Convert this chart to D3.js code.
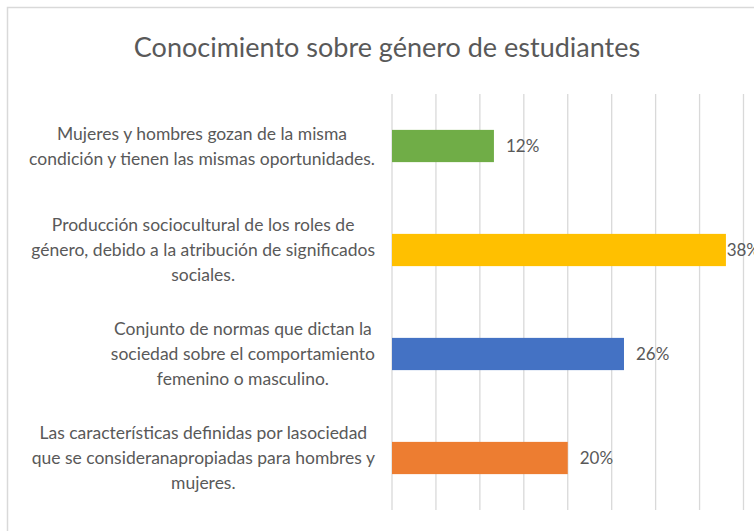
<!DOCTYPE html>
<html>
<head>
<meta charset="utf-8">
<script src="https://cdn.jsdelivr.net/npm/d3@7"></script>
<style>
  body { margin: 0; background: #fff; }
  svg { display: block; font-family: Lato, "Open Sans", sans-serif; }
</style>
</head>
<body>
<script>
// data
var categories = [
  "Mujeres y hombres gozan de la misma condición y tienen las mismas oportunidades.",
  "Producción sociocultural de los roles de género, debido a la atribución de significados sociales.",
  "Conjunto de normas que dictan la sociedad sobre el comportamiento femenino o masculino.",
  "Las características definidas por lasociedad que se consideranapropiadas para hombres y mujeres."
];
var labelLines = [
  ["Mujeres y hombres gozan de la misma", "condición y tienen las mismas oportunidades."],
  ["Producción sociocultural de los roles de", "género, debido a la atribución de significados", "sociales."],
  ["Conjunto de normas que dictan la", "sociedad sobre el comportamiento", "femenino o masculino."],
  ["Las características definidas por lasociedad", "que se consideranapropiadas para hombres y", "mujeres."]
];
var values = [11.6, 38, 26.4, 20];
var colors = ["#70ad47", "#ffc000", "#4472c4", "#ed7d31"];
var gridTicks = [0, 5, 10, 15, 20, 25, 30, 35, 40];

var w = 754, h = 531;
var textColor = "#595959";
var plotRight = 760; // plot area runs past the cropped edge

var svg = d3.select("body").append("svg")
  .attr("width", w)
  .attr("height", h);

// chart frame (cropped at right and bottom in the original)
svg.append("rect")
  .attr("x", 7.5).attr("y", 7.5)
  .attr("width", 800).attr("height", 600)
  .attr("fill", "#fff")
  .attr("stroke", "#d9d9d9")
  .attr("stroke-width", 1.5);

svg.append("text")
  .attr("x", 387)
  .attr("y", 57)
  .attr("text-anchor", "middle")
  .attr("font-size", "27px")
  .attr("fill", textColor)
  .text("Conocimiento sobre género de estudiantes");

var x = d3.scaleLinear().domain([0, 40]).range([392, 743.5]);
var y = d3.scaleBand().domain(categories).range([94, 510])
  .paddingInner(0.69).paddingOuter(0.345);

// vertical gridlines
svg.append("g")
  .selectAll("line")
  .data(gridTicks)
  .enter()
  .append("line")
  .attr("x1", function(d) { return x(d); })
  .attr("x2", function(d) { return x(d); })
  .attr("y1", 94)
  .attr("y2", 510)
  .attr("stroke", "#d9d9d9")
  .attr("stroke-width", 1.3);

svg.append("g")
  .selectAll("rect")
  .data(values)
  .enter()
  .append("rect")
  .attr("x", x(0))
  .attr("y", function(d, i) { return y(categories[i]); })
  .attr("width", function(d) { return x(d) - x(0); })
  .attr("height", y.bandwidth())
  .attr("fill", function(d, i) { return colors[i]; });

// value labels, pushed back inside the plot area when they overflow
svg.append("g")
  .selectAll("text")
  .data(values)
  .enter()
  .append("text")
  .attr("y", function(d, i) { return y(categories[i]) + y.bandwidth() / 2; })
  .attr("dy", "0.35em")
  .attr("font-size", "17px")
  .attr("fill", textColor)
  .text(function(d) { return Math.round(d) + "%"; })
  .attr("x", function(d) {
    var tw = this.getComputedTextLength();
    return Math.min(x(d) + 12, plotRight - tw);
  });

// category labels: block right-aligned to the axis, lines centered in it
var lineH = 25;
var labels = svg.append("g")
  .selectAll("g")
  .data(labelLines)
  .enter()
  .append("g");

labels.each(function(lines, i) {
  var g = d3.select(this);
  var cy = y(categories[i]) + y.bandwidth() / 2;
  var top = cy - (lines.length - 1) * lineH / 2;
  var texts = g.selectAll("text")
    .data(lines)
    .enter()
    .append("text")
    .attr("y", function(d, j) { return top + j * lineH; })
    .attr("dy", "0.35em")
    .attr("text-anchor", "middle")
    .attr("font-size", "17.5px")
    .attr("fill", textColor)
    .text(function(d) { return d; });
  var maxW = 0;
  texts.each(function() { maxW = Math.max(maxW, this.getComputedTextLength()); });
  texts.attr("x", 375 - maxW / 2);
});
</script>
</body>
</html>
